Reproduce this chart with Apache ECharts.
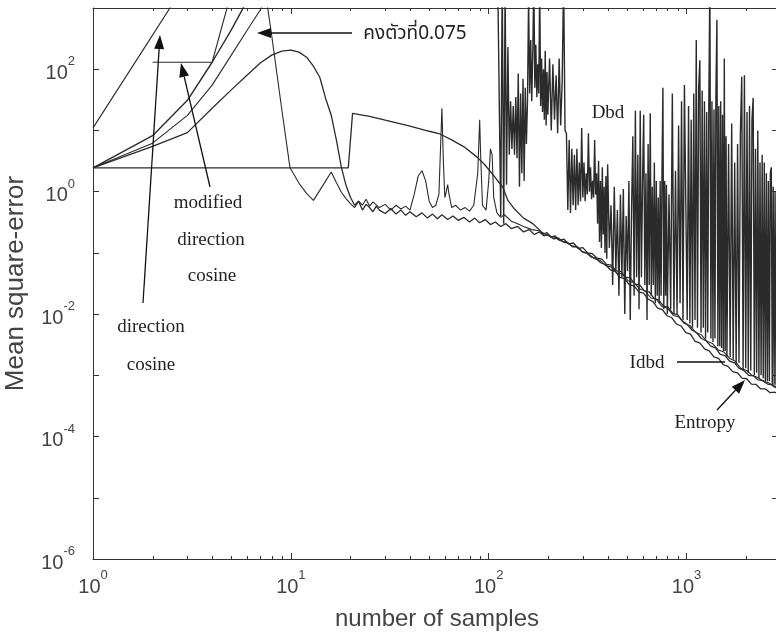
<!DOCTYPE html>
<html><head><meta charset="utf-8">
<script src="https://cdn.jsdelivr.net/npm/echarts@6/dist/echarts.min.js"></script>
<style>html,body{margin:0;padding:0;background:#fff}#c{width:776px;height:637px}</style>
</head><body><div id="c"></div><script>
// ---- axis ranges / ticks ----
const xRange = [1, 3000];
const yRange = [1e-6, 1e3];
const xMinorMultipliers = [2,3,4,5,6,7,8,9];
const xDecades = [1,10,100,1000];

// ---- series data [number of samples, mean square-error] ----
const dirCos = [[1,11],[2,360],[3,2800]];
const modDirCos = [[2,130],[4,130],[5,1800]];
const constStep = [[1,2.45],[2,6.2],[3,17.6],[4,55],[5,170],[6,430],[7,930],[7.5,1500],[8,355],[9,22],[9.9,2.45],[11,1.37],[12,0.94],[13,0.72],[14,1.05],[15,1.5],[16,2.1],[17,1.4],[18,0.98],[19,0.77],[20,0.64],[21,0.55],[22,0.7],[23,0.6],[24,0.75],[25,0.58],[26,0.68],[28,0.55],[30,0.62],[32,0.5],[34,0.6],[36,0.52],[38,0.58],[40,0.5],[42,0.9],[44,1.8],[46,2.2],[48,1.5],[50,0.7],[52,0.55],[54,0.6],[56,0.9],[58,23],[59,3],[60,0.8],[61,1.0],[62,1.3],[63,0.9],[65,0.55],[68,0.6],[72,0.5],[76,0.55],[80,0.48],[84,0.6],[88,2],[90,15],[91,4],[93,0.6],[97,0.5],[100,1.5],[102,5],[104,4],[106,0.8],[110,0.45],[115,0.38],[120,0.42],[130,0.33],[140,0.3],[150,0.27],[165,0.24],[180,0.23],[200,0.19],[215,0.18],[230,0.158],[246,0.152],[263,0.13],[281,0.125],[300,0.102],[320,0.097],[342,0.08],[365,0.076],[390,0.062],[416,0.059],[444,0.047],[474,0.045],[506,0.035],[540,0.033],[577,0.026],[616,0.024],[658,0.0185],[702,0.0175],[750,0.0133],[800,0.0125],[855,0.0096],[913,0.009],[975,0.007],[1041,0.0065],[1112,0.005],[1187,0.0046],[1268,0.0036],[1354,0.0033],[1446,0.0026],[1544,0.0024],[1649,0.0019],[1761,0.0017],[1880,0.0013],[2008,0.0012],[2144,0.001],[2290,0.00092],[2445,0.0008],[2611,0.00075],[2788,0.00064],[2977,0.0006]];
const dbd = [[1,2.45],[2,8.2],[3,31],[4,130],[5,440],[6,1300],[7,3000],[111,3000],
[113,3000],[115,0.4],[117,3000],[119,0.3],[121,2000],[123,1.3],[125,230],[127,4],[129,30],[131,5],[133,25],[135,4],[137,35],[139,3.5],[141,85],[143,1.2],[145,40],[147,2],[149,70],[151,1.5],[153,50],[155,6],[157,30],[159,1500],
[161,40],[163,300],[165,30],[167,200],[169,3000],[171,50],[173,250],[175,35],[177,120],[179,40],[181,2500],[183,25],[185,150],[187,20],[189,100],[191,15],[193,200],[195,12],[197,90],[199,18],
[203,150],[207,10],[211,120],[215,15],[219,80],[223,9],[227,150],[231,12],[235,60],[239,3000],[243,10],[247,9],[251,0.5],[255,7],[259,0.45],[263,5],[267,0.6],[271,4],[275,0.5],[279,5],[283,0.6],[287,3],[291,0.7],[295,11],[299,0.8],[303,3],[307,0.7],[311,2],[315,0.9],[319,9],[323,1],[327,2.5],[331,0.75],[335,1.5],[339,0.8],[343,7],[347,0.9],[351,2],[355,0.3],[359,3.2],[363,0.15],[367,1.5],[371,0.12],[375,2.5],[379,0.2],[383,1.2],[387,0.1],[391,1.8],[395,0.08],[399,2.8],
[407,0.12],[415,0.6],[423,0.03],[431,1.2],[439,0.05],[447,0.5],[455,0.02],[463,0.9],[471,0.04],[479,1.1],[487,0.01],[495,0.4],[503,0.05],[511,1.5],[519,0.008],[527,0.5],[535,8],[543,0.02],[551,21],[559,0.04],[567,4],[575,0.012],[583,21],[591,0.04],[599,1.5],[607,18],[615,0.03],[623,2],[631,0.008],[639,6],[647,0.03],[655,19],[663,0.02],[671,1.2],[679,0.03],[687,3],[695,0.015],[703,1.5],[711,0.02],[719,0.8],[727,0.015],[735,1.5],[743,0.02],[751,2],[759,50],[767,0.012],[775,1.5],[783,0.02],[791,1.3],[799,0.01],
[815,0.9],[831,0.012],[847,40],[863,0.01],[879,2.2],[895,0.01],[911,12],[927,0.015],[943,30],[959,0.008],[975,55],[991,58],[1007,0.008],[1023,25],[1039,0.007],[1055,15],[1071,0.006],[1087,40],[1103,0.008],[1119,300],[1135,0.006],[1151,50],[1167,140],[1183,0.005],[1199,45],[1215,0.006],[1231,30],[1247,0.004],[1263,20],[1279,0.005],[1295,25],[1311,3000],[1327,0.004],[1343,30],[1359,0.0035],[1375,22],[1391,0.004],[1407,40],[1423,640],[1439,0.003],[1455,25],[1471,0.003],[1487,30],[1503,0.0028],[1519,18],[1535,0.0025],[1551,150],[1567,0.0025],[1583,8],[1599,0.002],
[1630,6],[1660,0.002],[1690,13],[1720,0.0018],[1750,3],[1780,0.0015],[1810,6],[1840,0.0016],[1870,9],[1900,75],[1930,0.0012],[1960,80],[1990,0.0013],[2020,20],[2050,0.0011],[2080,25],[2110,0.0012],[2140,15],[2170,34],[2200,0.001],[2230,5],[2260,0.0011],[2290,10],[2320,0.0009],[2350,3],[2380,0.001],[2410,4],[2440,0.0009],[2470,3],[2500,0.0008],[2530,2],[2560,0.0008],[2590,1.5],[2620,0.0008],[2650,2],[2680,2.5],[2710,0.0007],[2740,1.2],[2770,0.0007],[2800,1],[2830,0.0007],[2860,0.8],[2890,0.0006],[2920,0.9],[2950,0.0006],[2980,0.7]];
const idbd = [[1,2.45],[19.5,2.45],[20.5,19],[25,17],[30,14.7],[40,11.8],[50,9.7],[56,8.9],[65,7],[75,5.4],[87,3.7],[95,2.8],[105,1.9],[118,1.17],[125,0.72],[135,0.52],[150,0.37],[167,0.3],[180,0.24],[188,0.2],[197,0.215],[206,0.18],[216,0.19],[228,0.16],[240,0.168],[254,0.14],[268,0.145],[283,0.118],[299,0.122],[316,0.1],[334,0.097],[353,0.082],[373,0.079],[394,0.065],[416,0.063],[440,0.051],[465,0.05],[491,0.04],[519,0.039],[548,0.031],[579,0.03],[612,0.024],[647,0.023],[684,0.018],[723,0.017],[764,0.0135],[807,0.013],[853,0.0102],[901,0.0098],[952,0.0077],[1006,0.0068],[1063,0.0055],[1123,0.005],[1187,0.004],[1254,0.0037],[1325,0.003],[1400,0.0028],[1479,0.0022],[1563,0.0021],[1651,0.0017],[1745,0.0016],[1843,0.0013],[1948,0.0012],[2058,0.001],[2175,0.00098],[2298,0.00084],[2428,0.00082],[2566,0.00072],[2711,0.0007],[2865,0.00064],[3000,0.00062]];
const entropy = [[1,2.45],[2,5.5],[3,9.2],[4,23],[5,46],[6,80],[7,126],[8,170],[9,197],[10,205],[11,190],[12,157],[13,112],[14,74],[15,33],[16,17.7],[17,6.9],[18,2.5],[19,1.27],[20,0.81],[21,0.6],[22,0.7],[23,0.5],[24,0.62],[25,0.55],[26,0.47],[27,0.58],[28,0.5],[30,0.44],[32,0.53],[34,0.43],[36,0.5],[38,0.41],[40,0.47],[43,0.39],[46,0.45],[49,0.37],[52,0.43],[55,0.36],[58,0.42],[62,0.35],[66,0.4],[70,0.34],[75,0.38],[80,0.32],[85,0.37],[90,0.31],[96,0.35],[102,0.29],[108,0.32],[115,0.27],[122,0.3],[130,0.25],[140,0.27],[150,0.22],[160,0.24],[170,0.2],[180,0.22],[190,0.19],[200,0.2],[212,0.17],[225,0.175],[238,0.15],[252,0.145],[266,0.125],[280,0.125],[296,0.105],[312,0.1],[330,0.085],[348,0.082],[368,0.069],[390,0.064],[412,0.053],[436,0.05],[460,0.04],[486,0.038],[514,0.03],[543,0.029],[574,0.023],[606,0.022],[640,0.0175],[676,0.016],[714,0.0125],[754,0.0118],[796,0.0094],[841,0.0088],[888,0.0069],[938,0.0064],[990,0.005],[1046,0.0047],[1104,0.0036],[1166,0.0034],[1232,0.0027],[1301,0.0025],[1374,0.002],[1451,0.0019],[1532,0.0015],[1618,0.0014],[1709,0.00115],[1805,0.0011],[1906,0.0009],[2013,0.00088],[2126,0.00072],[2245,0.00071],[2371,0.0006],[2504,0.0006],[2645,0.00052],[2793,0.00053],[2950,0.00048],[3000,0.0005]];

// ---- fonts ----
const SANS = '"Liberation Sans Narrow","Liberation Sans",Arial,sans-serif';
const SERIF = '"Liberation Serif","Times New Roman",serif';
const THAI = '"Noto Sans Thai","Noto Sans Thai Looped","Loma","Garuda","Norasi","Tlwg Typo","DejaVu Sans",sans-serif';

function supFmt(v, hideOdd) {
  const e = Math.log10(v), r = Math.round(e);
  if (Math.abs(e - r) > 1e-6) return '';
  if (hideOdd && (r % 2 !== 0)) return '';
  return '{b|10}{s|' + r + '}';
}
const rich = {
  b: {fontSize: 20, fontFamily: SANS, color: '#444', padding: [8,0,0,0], verticalAlign: 'bottom'},
  s: {fontSize: 13, fontFamily: SANS, color: '#444', verticalAlign: 'top'}
};
function mk(name, data, w) {
  return {name, type: 'line', data, showSymbol: false, symbol: 'none',
    lineStyle: {width: w || 1.1, color: '#2b2b2b'}, clip: true, animation: false, z: 2};
}
const chart = echarts.init(document.getElementById('c'), null, {renderer: 'canvas'});
const G = {left: 93, top: 8, width: 688, height: 551, containLabel: false, outerBoundsMode: 'none'};
const axisLine = {show: true, lineStyle: {color: '#333', width: 1}};
chart.setOption({
  animation: false,
  backgroundColor: '#fff',
  grid: G,
  xAxis: [
    {type: 'log', logBase: 10, min: xRange[0], max: xRange[1], position: 'bottom',
     axisLine, axisTick: {show: true, inside: true, length: 6, lineStyle: {color: '#333'}},
     splitLine: {show: false},
     axisLabel: {formatter: v => supFmt(v, false), rich, margin: 10},
     name: 'number of samples', nameLocation: 'middle', nameGap: 48,
     nameTextStyle: {fontSize: 24, fontFamily: SANS, color: '#444'}},
    {type: 'log', logBase: 10, min: xRange[0], max: xRange[1], position: 'top',
     axisLine, axisTick: {show: true, inside: true, length: 6, lineStyle: {color: '#333'}},
     splitLine: {show: false}, axisLabel: {show: false}}
  ],
  yAxis: [
    {type: 'log', logBase: 10, min: yRange[0], max: yRange[1], position: 'left', splitNumber: 9,
     axisLine, axisTick: {show: true, inside: true, length: 6, lineStyle: {color: '#333'}},
     splitLine: {show: false},
     axisLabel: {formatter: v => supFmt(v, true), rich, margin: 18},
     name: 'Mean square-error', nameLocation: 'middle', nameGap: 64,
     nameTextStyle: {fontSize: 26, fontFamily: SANS, color: '#444'}},
    {type: 'log', logBase: 10, min: yRange[0], max: yRange[1], position: 'right', splitNumber: 9,
     axisLine, axisTick: {show: true, inside: true, length: 9, lineStyle: {color: '#333'}},
     splitLine: {show: false}, axisLabel: {show: false}}
  ],
  series: [
    mk('direction cosine', dirCos),
    mk('modified direction cosine', modDirCos),
    mk('คงตัวที่0.075', constStep),
    mk('Dbd', dbd, 1.4),
    mk('Idbd', idbd, 1.3),
    mk('Entropy', entropy, 1.3)
  ]
});

// minor ticks on log x axis (bottom and top), placed through the axis scale
const gr = [];
const yB = chart.convertToPixel({yAxisIndex: 0}, yRange[0]);
const yT = chart.convertToPixel({yAxisIndex: 0}, yRange[1]);
xDecades.forEach(d => xMinorMultipliers.forEach(m => {
  const v = d * m;
  if (v > xRange[1]) return;
  const px = Math.round(chart.convertToPixel({xAxisIndex: 0}, v)) + 0.5;
  gr.push({type: 'line', shape: {x1: px, y1: yB, x2: px, y2: yB - 3}, style: {stroke: '#333', lineWidth: 1}, silent: true});
  gr.push({type: 'line', shape: {x1: px, y1: yT, x2: px, y2: yT + 3}, style: {stroke: '#333', lineWidth: 1}, silent: true});
}));
function txt(x, y, text, font, align) {
  gr.push({type: 'text', x, y, silent: true, z: 10,
    style: {text, font, fill: '#222', textAlign: align || 'center', textVerticalAlign: 'middle', align: align || 'center', verticalAlign: 'middle'}});
}
function arrow(x1, y1, x2, y2) {
  const dx = x2 - x1, dy = y2 - y1, L = Math.hypot(dx, dy), ux = dx / L, uy = dy / L;
  const hl = 14, hw = 5;
  const bx = x2 - ux * hl, by = y2 - uy * hl;
  gr.push({type: 'line', shape: {x1, y1, x2: bx, y2: by}, style: {stroke: '#111', lineWidth: 1.3}, silent: true, z: 10});
  gr.push({type: 'polygon', shape: {points: [[x2, y2], [bx - uy * hw, by + ux * hw], [bx + uy * hw, by - ux * hw]]}, style: {fill: '#111'}, silent: true, z: 10});
}
txt(415, 35, 'คงตัวที่0.075', '19px ' + THAI);
arrow(352, 33, 257, 33);
txt(208, 203, 'modified', '19px ' + SERIF);
txt(211, 240, 'direction', '19px ' + SERIF);
txt(212, 276, 'cosine', '19px ' + SERIF);
arrow(210, 187, 181, 63);
txt(151, 327, 'direction', '19px ' + SERIF);
txt(151, 365, 'cosine', '19px ' + SERIF);
arrow(143, 303, 160, 35);
txt(608, 113, 'Dbd', '19px ' + SERIF);
txt(647, 363, 'Idbd', '19px ' + SERIF);
gr.push({type: 'line', shape: {x1: 677, y1: 362, x2: 725, y2: 362}, style: {stroke: '#111', lineWidth: 1.3}, silent: true, z: 10});
txt(705, 423, 'Entropy', '19px ' + SERIF);
arrow(717, 410, 745, 380);
chart.setOption({graphic: gr});
</script></body></html>
